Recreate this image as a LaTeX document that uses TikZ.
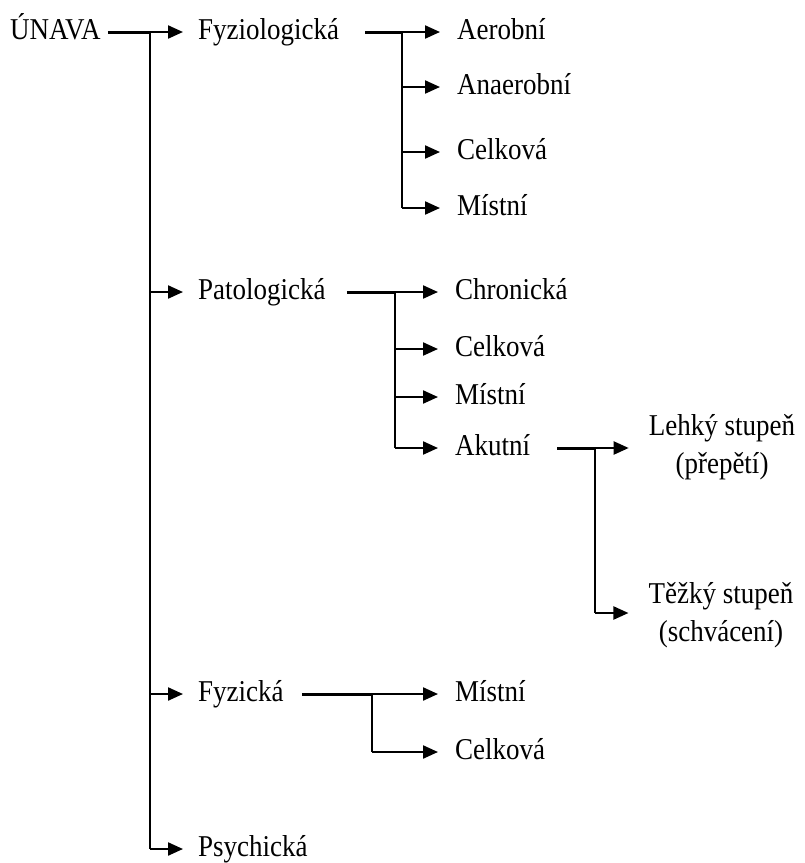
\documentclass[tikz,border=0pt]{standalone}
\usepackage{fontspec}
\setmainfont{Liberation Serif}
\usetikzlibrary{arrows.meta}
\newcommand\tallt[1]{\scalebox{1}[1.12]{#1}}
\newcommand\twol[2]{\tallt{\begin{tabular}{@{}c@{}}#1\\#2\end{tabular}}}
\begin{document}
\begin{tikzpicture}[x=1pt,y=-1pt,
  lbl/.style={anchor=west,inner sep=0pt,font=\fontsize{27}{34}\selectfont,text height=21pt,text depth=6pt},
  lbl2/.style={anchor=center,inner sep=0pt,font=\fontsize{27}{34}\selectfont},
  ln/.style={line width=2.2pt,black},
  feed/.style={line width=3pt,black},
  arr/.style={line width=2.2pt,black,-{Triangle[length=15pt,width=13pt]}},
]
\useasboundingbox (0,0) rectangle (805,863);
% level 0 and 1
\node[lbl] (unava) at (10,32) {\tallt{ÚNAVA}};
\node[lbl] (fyzio) at (198,32) {\tallt{Fyziologická}};
\node[lbl] (pato) at (198,292) {\tallt{Patologická}};
\node[lbl] (fyzi) at (198,694) {\tallt{Fyzická}};
\node[lbl] (psy) at (198,849) {\tallt{Psychická}};
% level 2
\node[lbl] (aer) at (457,32) {\tallt{Aerobní}};
\node[lbl] (ana) at (457,87) {\tallt{Anaerobní}};
\node[lbl] (cel1) at (457,152) {\tallt{Celková}};
\node[lbl] (mis1) at (457,208) {\tallt{Místní}};
\node[lbl] (chr) at (455,292) {\tallt{Chronická}};
\node[lbl] (cel2) at (455,349) {\tallt{Celková}};
\node[lbl] (mis2) at (455,397) {\tallt{Místní}};
\node[lbl] (aku) at (455,448) {\tallt{Akutní}};
\node[lbl] (mis3) at (455,694) {\tallt{Místní}};
\node[lbl] (cel3) at (455,752) {\tallt{Celková}};
% level 3
\node[lbl2] (leh) at (722,447) {\twol{Lehký stupeň}{(přepětí)}};
\node[lbl2] (tez) at (721,615) {\twol{Těžký stupeň}{(schvácení)}};
% junctions
\coordinate (j0) at (150,32);
\coordinate (j1) at (402,32);
\coordinate (j2) at (395,292);
\coordinate (j3) at (595,448);
\coordinate (j3b) at (595,613);
\coordinate (j4) at (372,694);
% ÚNAVA
\draw[feed] ([xshift=7pt]unava.east) -- (j0);
\draw[ln] (j0) -- (j0 |- psy.west);
\draw[arr,shorten >=15pt] (j0) -- (fyzio.west);
\draw[arr,shorten >=15pt] (j0 |- pato.west) -- (pato.west);
\draw[arr,shorten >=15pt] (j0 |- fyzi.west) -- (fyzi.west);
\draw[arr,shorten >=15pt] (j0 |- psy.west) -- (psy.west);
% Fyziologická
\draw[feed] ([xshift=26pt]fyzio.east) -- (j1);
\draw[ln] (j1) -- (j1 |- mis1.west);
\draw[arr,shorten >=17pt] (j1) -- (aer.west);
\draw[arr,shorten >=17pt] (j1 |- ana.west) -- (ana.west);
\draw[arr,shorten >=17pt] (j1 |- cel1.west) -- (cel1.west);
\draw[arr,shorten >=17pt] (j1 |- mis1.west) -- (mis1.west);
% Patologická
\draw[feed] ([xshift=21pt]pato.east) -- (j2);
\draw[ln] (j2) -- (j2 |- aku.west);
\draw[arr,shorten >=17pt] (j2) -- (chr.west);
\draw[arr,shorten >=17pt] (j2 |- cel2.west) -- (cel2.west);
\draw[arr,shorten >=17pt] (j2 |- mis2.west) -- (mis2.west);
\draw[arr,shorten >=17pt] (j2 |- aku.west) -- (aku.west);
% Akutní
\draw[feed] ([xshift=27pt]aku.east) -- (j3);
\draw[ln] (j3) -- (j3b);
\draw[arr,shorten >=20pt] (j3) -- (j3 -| leh.west);
\draw[arr,shorten >=20pt] (j3b) -- (j3b -| tez.west);
% Fyzická
\draw[feed] ([xshift=18pt]fyzi.east) -- (j4);
\draw[ln] (j4) -- (j4 |- cel3.west);
\draw[arr,shorten >=17pt] (j4) -- (mis3.west);
\draw[arr,shorten >=17pt] (j4 |- cel3.west) -- (cel3.west);
\end{tikzpicture}
\end{document}
